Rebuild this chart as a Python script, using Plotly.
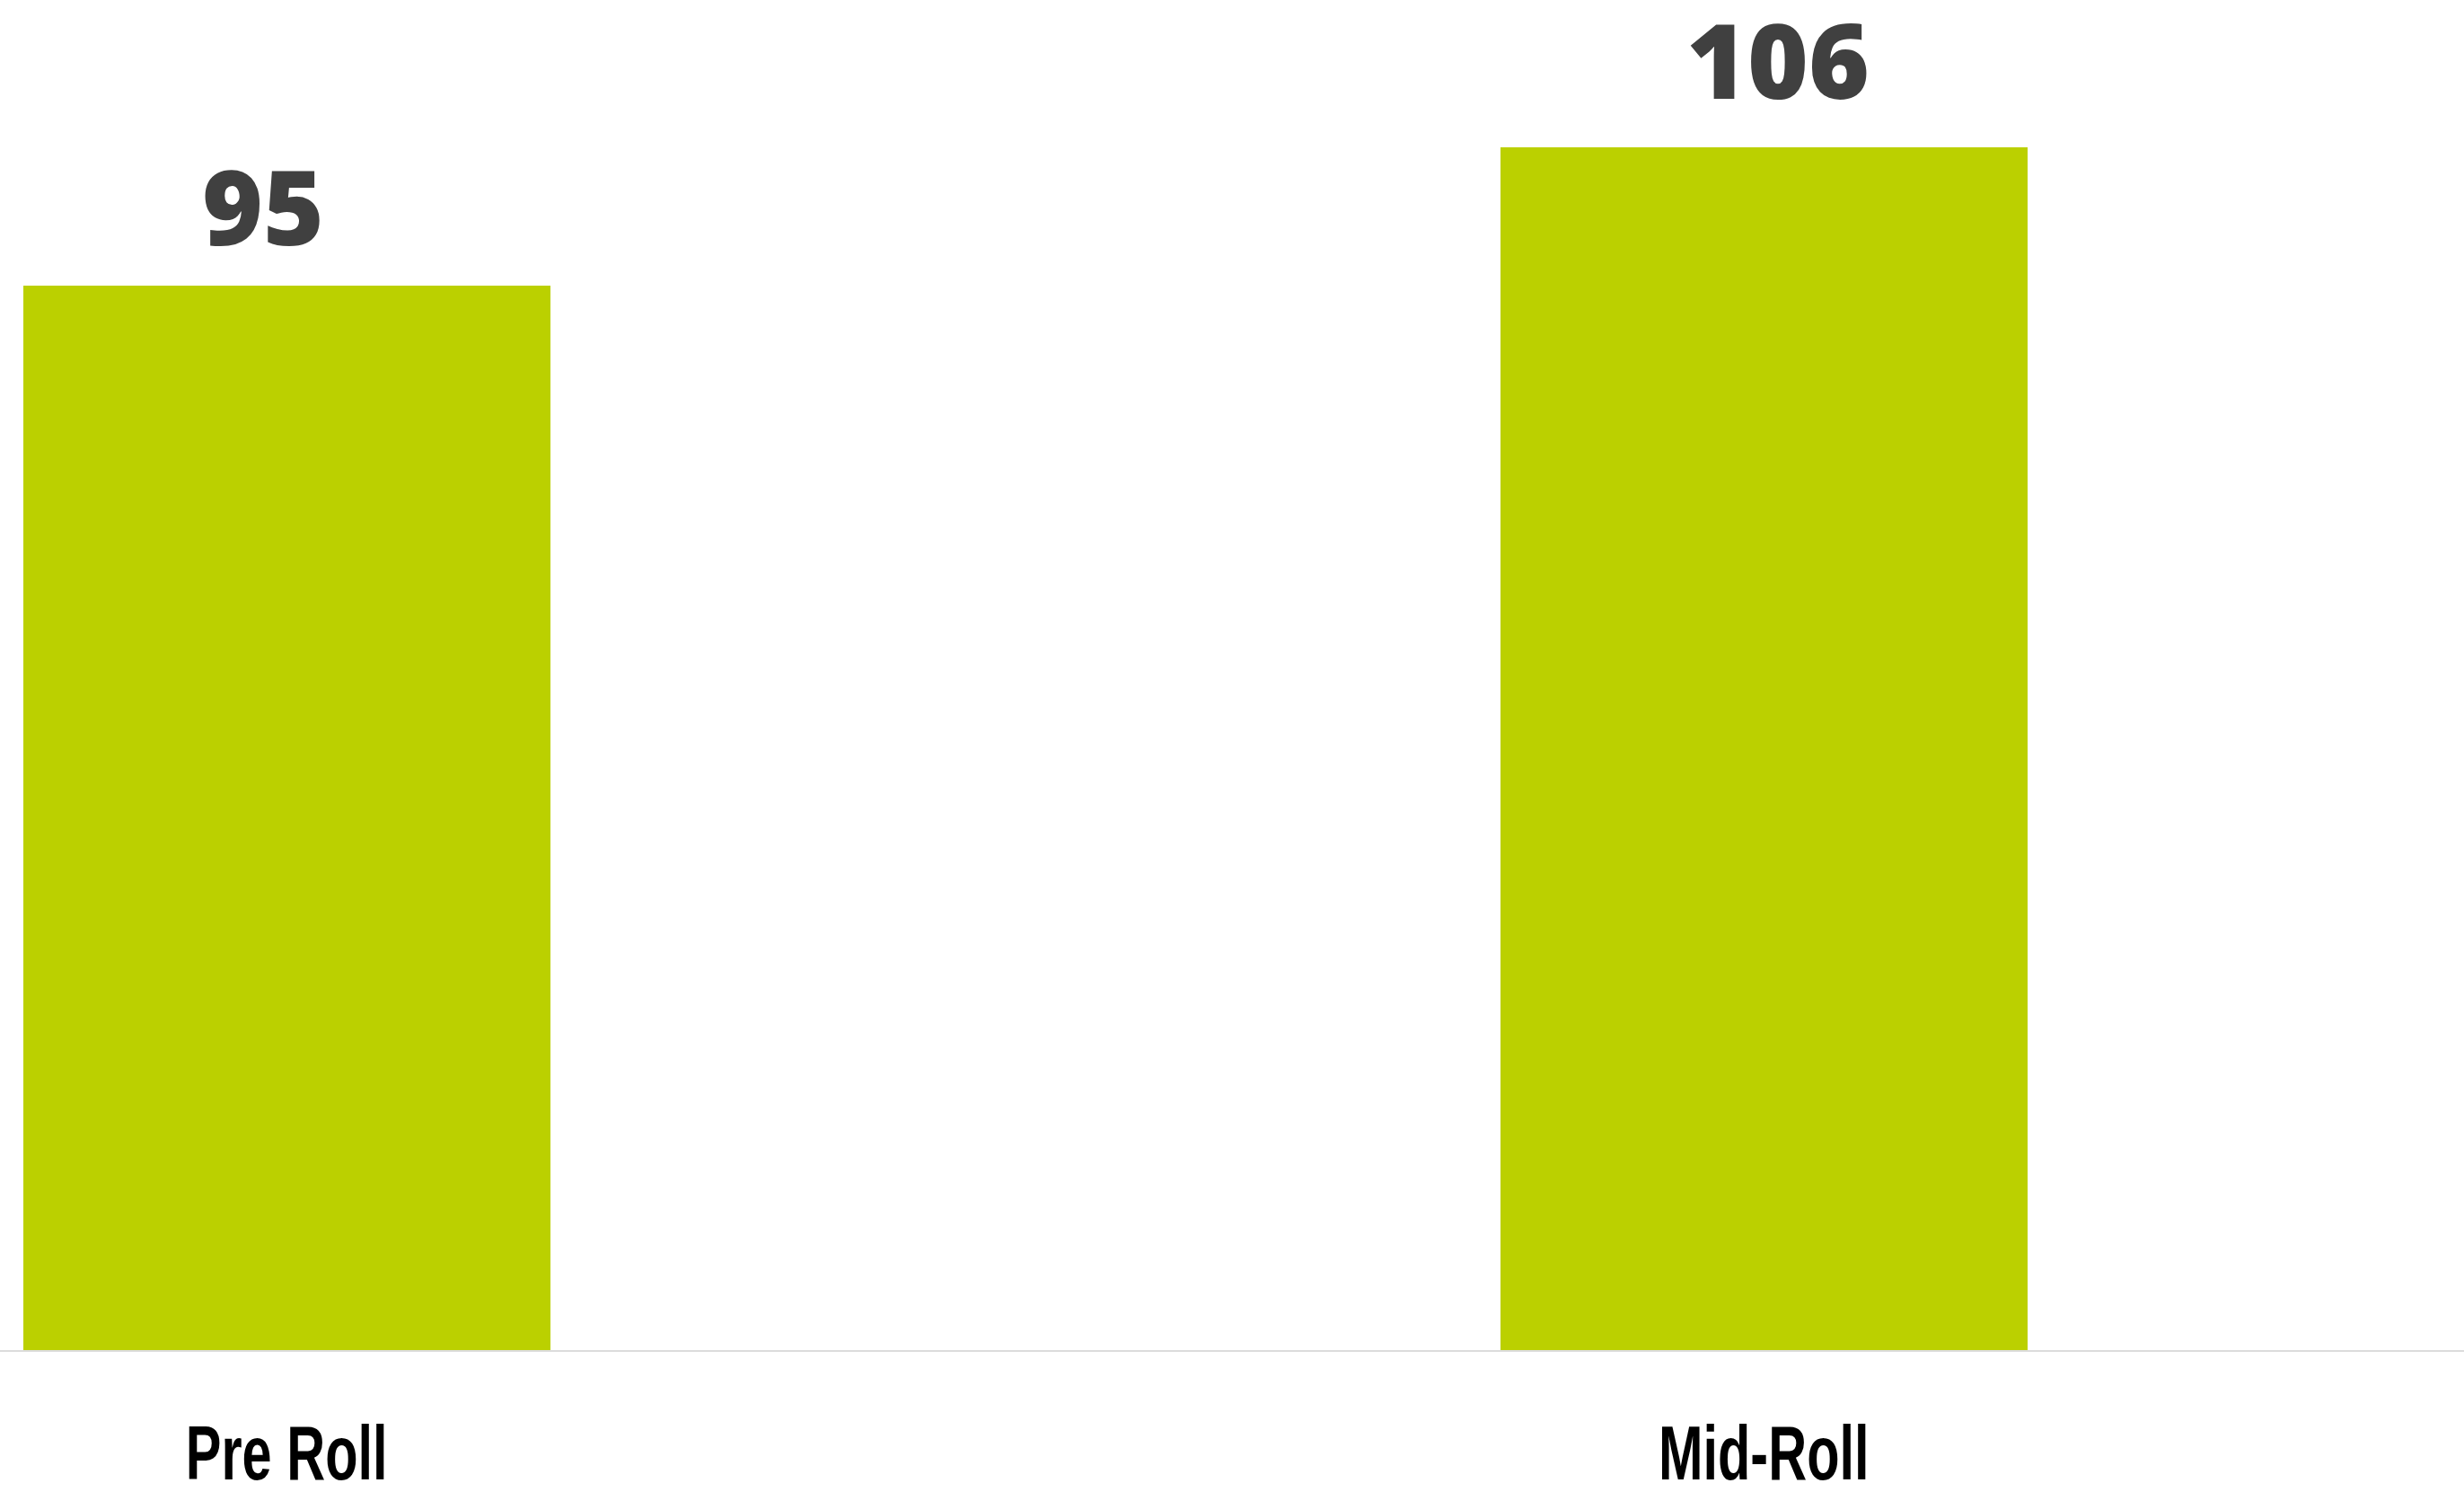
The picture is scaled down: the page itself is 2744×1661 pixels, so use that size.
import plotly.graph_objects as go

# Ad placement categories and their index values
categories = ["Pre Roll", "Mid-Roll"]
values = [95, 106]
value_labels = ["95", "106"]

BAR_COLOR = "#bbd000"
LABEL_COLOR = "#404040"

fig = go.Figure()

fig.add_trace(go.Bar(
    x=categories,
    y=values,
    width=0.357,
    marker=dict(color=BAR_COLOR, line=dict(width=0)),
    hoverinfo="skip",
    showlegend=False,
))

# Value labels sitting above each bar
label_xshift = [-26, 16]
label_yshift = [9, 18]
for cat, val, txt, dx, dy in zip(categories, values, value_labels, label_xshift, label_yshift):
    fig.add_annotation(
        x=cat, y=val, text=txt,
        showarrow=False, xanchor="center", yanchor="bottom",
        xshift=dx, yshift=dy,
        font=dict(family="Open Sans, Lato, sans-serif", size=116,
                  color=LABEL_COLOR, weight=800),
    )

fig.update_layout(
    width=2744, height=1661,
    margin=dict(l=0, r=0, t=0, b=158, pad=0, autoexpand=False),
    paper_bgcolor="white",
    plot_bgcolor="white",
    bargap=0,
    xaxis=dict(
        type="category",
        range=[-0.194, 1.474],
        automargin=False,
        showgrid=False,
        zeroline=False,
        showline=True,
        linecolor="#dcdcdc",
        linewidth=2,
        ticks="",
        ticklabelstandoff=40,
        tickfont=dict(family="Liberation Sans, Arial, sans-serif",
                      size=85, color="#000000", weight=700),
        fixedrange=True,
    ),
    yaxis=dict(
        range=[10.3, 117.72],
        visible=False,
        automargin=False,
        showgrid=False,
        zeroline=False,
        fixedrange=True,
    ),
)

# Narrow the category labels horizontally into a condensed face
condense_js = """
var gd = document.getElementById('{plot_id}');
function condenseTicks() {
  gd.querySelectorAll('.xtick text').forEach(function (t) {
    var tr = t.getAttribute('transform') || '';
    if (tr.indexOf('scale(0.7') !== -1) { return; }
    var x = parseFloat(t.getAttribute('x')) || 0;
    t.setAttribute('transform', tr + ' translate(' + x + ',0) scale(0.7,1) translate(' + (-x) + ',0)');
  });
}
condenseTicks();
gd.on('plotly_afterplot', condenseTicks);
"""

fig.write_html("out.html", post_script=condense_js)
